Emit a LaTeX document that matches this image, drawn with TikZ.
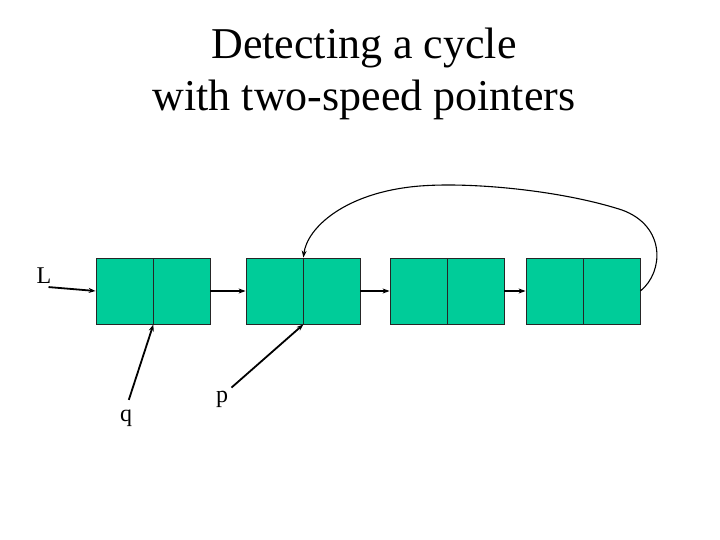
\documentclass[tikz,border=0pt]{standalone}
\usepackage{fontspec}
\setmainfont{Liberation Serif}
\usetikzlibrary{arrows.meta,positioning}
\definecolor{cellgreen}{RGB}{0,204,153}

\begin{document}
\begin{tikzpicture}[
  x=1pt, y=-1pt,
  >={Stealth[length=7pt,width=5pt]},
  cell/.style={draw=black!85, line width=0.8pt, fill=cellgreen,
               minimum width=57pt, minimum height=66pt, inner sep=0pt},
  link/.style={->, line width=1.8pt, draw=black},
  ptr/.style={->, line width=1.8pt, draw=black},
  back/.style={->, line width=1.1pt, draw=black},
  lbl/.style={font=\fontsize{24}{28}\selectfont, inner sep=1pt}
]
\useasboundingbox (0,0) rectangle (720,540);

% ==================== Title ====================
\node[font=\fontsize{44}{52}\selectfont, align=center] (title) at (364,74)
  {Detecting a cycle\\with two-speed pointers};

% ==================== List cells ====================
\foreach \i/\xl in {1/96, 2/246, 3/390, 4/526} {
  \node[cell] (n\i a) at (\xl+28.5, 291) {};
  \node[cell] (n\i b) at (\xl+85.5, 291) {};
}

% ==================== Links ====================
\draw[link] (n1b.east) -- (n2a.west);
\draw[link] (n2b.east) -- (n3a.west);
\draw[link] (n3b.east) -- (n4a.west);

% back link closing the cycle
\draw[back] (n4b.east) .. controls (664,272) and (666,226) .. (622,210)
  .. controls (560,190) and (470,182) .. (420,186)
  .. controls (345,192) and (307,228) .. (n2a.north east);

% ==================== Pointers ====================
\node[lbl] (L) at (44,276) {L};
\node[lbl] (q) at (126,418) {q};
\node[lbl] (p) at (222,399) {p};

\draw[ptr] ([xshift=-4pt,yshift=-2pt]L.south east) -- (n1a.west);
\draw[ptr, shorten <=9pt] (q.north) -- (n1a.south east);
\draw[ptr, shorten <=3pt] (p.north east) -- (n2a.south east);

\end{tikzpicture}
\end{document}
